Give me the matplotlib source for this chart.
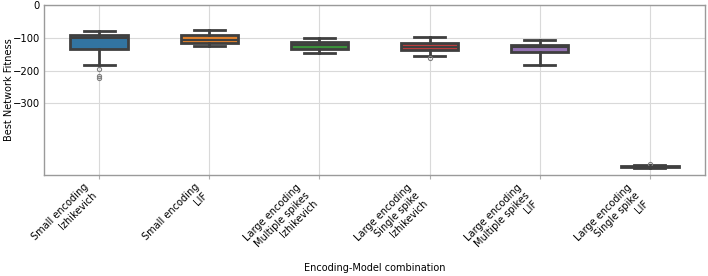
import matplotlib
matplotlib.use("Agg")
import matplotlib.pyplot as plt
from matplotlib import font_manager

categories = [
    "Small encoding\nIzhikevich",
    "Small encoding\nLIF",
    "Large encoding\nMultiple spikes\nIzhikevich",
    "Large encoding\nSingle spike\nIzhikevich",
    "Large encoding\nMultiple spikes\nLIF",
    "Large encoding\nSingle spike\nLIF",
]
whisker_high = [-79, -76, -102, -97, -107, -489]
q3_values = [-91, -91, -112, -117, -122, -491]
medians = [-100, -107, -123, -127, -129, -493]
q1_values = [-135, -115, -135, -137, -144, -495]
whisker_low = [-183, -125, -147, -155, -183, -498]
fliers = [[-195, -216, -221], [], [], [-160], [], [-485]]
colors = ["#3274a1", "#e1812c", "#3a923a", "#c03d3e", "#9372b2", "#845b53"]
yticks = [0, -100, -200, -300]

fig = plt.figure(figsize=(7.08, 2.76), dpi=100)
ax = fig.add_axes([44/708, 1-175/276, (705-44)/708, 170/276])

stats = []
for i in range(len(categories)):
    stats.append(dict(med=medians[i], q1=q1_values[i], q3=q3_values[i],
                      whislo=whisker_low[i], whishi=whisker_high[i],
                      fliers=fliers[i], label=categories[i]))

lc = "#3f3f3f"
bp = ax.bxp(stats, positions=range(len(categories)), widths=0.52,
            patch_artist=True, showfliers=True,
            boxprops=dict(edgecolor=lc, linewidth=2.0),
            medianprops=dict(color=lc, linewidth=1.5),
            whiskerprops=dict(color=lc, linewidth=2.0),
            capprops=dict(color=lc, linewidth=2.0),
            capwidths=0.28,
            flierprops=dict(marker="o", markersize=3, markerfacecolor="none",
                            markeredgecolor="#7f7f7f", markeredgewidth=0.8))
for patch, c in zip(bp["boxes"], colors):
    patch.set_facecolor(c)

cond = font_manager.FontProperties(family="DejaVu Sans", stretch="condensed", size=8)
condx = font_manager.FontProperties(family="DejaVu Sans", stretch="condensed", size=7.8)

ax.set_xlim(-0.5, len(categories) - 0.5)
ax.set_ylim(-518, 0)
ax.set_yticks(yticks)
ax.set_yticklabels([f"\u2212{abs(v)}" if v < 0 else str(v) for v in yticks],
                   fontproperties=cond)
ax.set_xticks(range(len(categories)))
ax.set_xticklabels(categories, rotation=45, ha="right", fontproperties=condx)
ax.tick_params(axis="y", length=0, pad=3)
ax.tick_params(axis="x", length=3, color="#b0b0b0", pad=2)
ax.grid(True, color="#d9d9d9", linewidth=0.8)
ax.set_axisbelow(True)
for s in ax.spines.values():
    s.set_color("#9a9a9a")
    s.set_linewidth(1.0)

ax.set_ylabel("Best Network Fitness", fontsize=7)
ax.set_xlabel("Encoding-Model combination", fontsize=7)
ax.xaxis.set_label_coords(0.5, -0.515)
ax.yaxis.set_label_coords(-0.046, 0.5)

fig.savefig("out.png", dpi=100)
